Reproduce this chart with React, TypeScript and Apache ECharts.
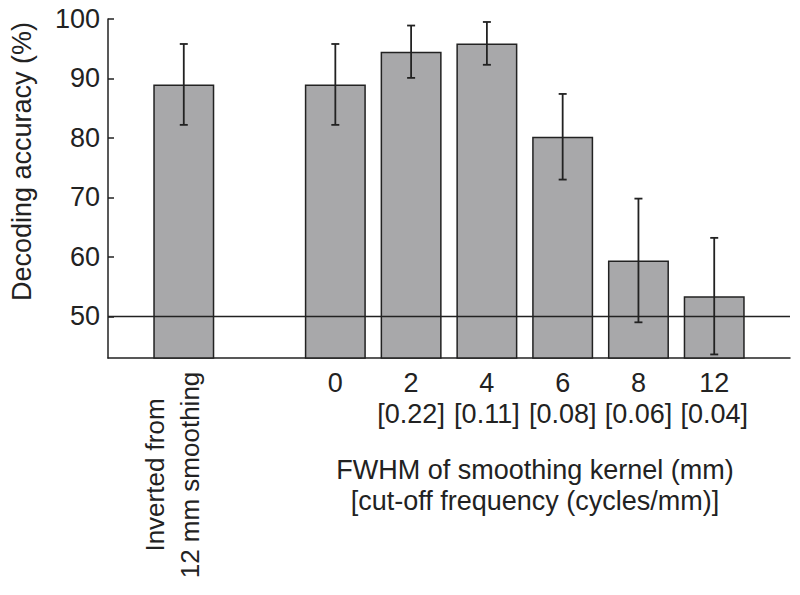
import React, { useEffect, useRef } from 'react';
import * as echarts from 'echarts';

// Data
const positions = [0, 2, 3, 4, 5, 6, 7];
const invertedLabelLines = ['Inverted from', '12 mm smoothing'];
const kernelLabels = ['0', '2', '4', '6', '8', '12'];
const cutoffLabels = ['', '[0.22]', '[0.11]', '[0.08]', '[0.06]', '[0.04]'];
const accuracy = [89.0, 89.0, 94.5, 95.9, 80.2, 59.4, 53.4];
const errors = [6.8, 6.8, 4.4, 3.6, 7.2, 10.4, 9.8];
const yTicks = [50, 60, 70, 80, 90, 100];
const chanceLevel = 50;
const yAxisTitle = 'Decoding accuracy (%)';
const xAxisTitle = 'FWHM of smoothing kernel (mm)\n[cut-off frequency (cycles/mm)]';

const FONT = '"Liberation Sans", Arial, Helvetica, sans-serif';
const INK = '#222222';

export default function App() {
  const ref = useRef<HTMLDivElement>(null);

  useEffect(() => {
    document.body.style.margin = '0';
    if (!ref.current) return;
    const chart = echarts.init(ref.current, undefined, { renderer: 'svg' });

    const barData = positions.map((p, i) => [p, accuracy[i]]);
    const errData = positions.map((p, i) => [p, accuracy[i], errors[i]]);

    const labelFor = (v: number) => {
      const idx = positions.indexOf(v);
      if (idx < 1) return '';
      const k = idx - 1;
      return cutoffLabels[k] ? kernelLabels[k] + '\n' + cutoffLabels[k] : kernelLabels[k];
    };

    const invertedRich =
      invertedLabelLines.map((l) => '{a|' + l + '}').join('\n') + '\n{s| }';

    chart.setOption({
      animation: false,
      backgroundColor: '#ffffff',
      textStyle: { fontFamily: FONT, color: INK },
      title: {
        text: xAxisTitle,
        left: 530,
        top: 449,
        textAlign: 'center',
        textStyle: {
          fontFamily: FONT,
          fontSize: 27,
          fontWeight: 'normal',
          color: INK,
          lineHeight: 31,
        },
      },
      grid: { left: 107, right: 10, top: 19, bottom: 237, containLabel: false },
      xAxis: [
        {
          type: 'value',
          position: 'bottom',
          min: -1,
          max: 8,
          interval: 1,
          splitLine: { show: false },
          axisTick: { show: false },
          axisLine: { show: true, onZero: false, lineStyle: { color: INK, width: 1.5 } },
          axisLabel: {
            show: true,
            rotate: 90,
            align: 'center',
            verticalAlign: 'middle',
            margin: 117,
            color: INK,
            fontFamily: FONT,
            fontSize: 26,
            rich: {
              a: { fontSize: 26, lineHeight: 35, fontFamily: FONT, color: INK, align: 'center' },
              s: { fontSize: 10, lineHeight: 23, fontFamily: FONT, color: INK },
            },
            formatter: (v: number) => (v === positions[0] ? invertedRich : ''),
          },
        },
        {
          type: 'value',
          position: 'bottom',
          min: -1,
          max: 8,
          interval: 1,
          splitLine: { show: false },
          axisTick: { show: false },
          axisLine: { show: false, onZero: false },
          axisLabel: {
            show: true,
            margin: 9,
            fontSize: 27,
            lineHeight: 31,
            color: INK,
            fontFamily: FONT,
            formatter: (v: number) => labelFor(v),
          },
        },
      ],
      yAxis: {
        type: 'value',
        min: 43,
        max: 100,
        name: yAxisTitle,
        nameLocation: 'middle',
        nameGap: 73,
        nameTextStyle: { fontSize: 27, color: INK, fontFamily: FONT, padding: [0, 0, 0, 54] },
        splitLine: { show: false },
        axisLine: { show: true, onZero: false, lineStyle: { color: INK, width: 1.5 } },
        axisTick: {
          show: true,
          inside: true,
          length: 6,
          customValues: yTicks,
          lineStyle: { color: INK, width: 1.5 },
        },
        axisLabel: {
          customValues: yTicks,
          margin: 8,
          fontSize: 27,
          color: INK,
          fontFamily: FONT,
        },
      },
      series: [
        {
          type: 'bar',
          xAxisIndex: 1,
          data: barData,
          barWidth: 61,
          itemStyle: { color: '#a8a8aa', borderColor: INK, borderWidth: 1.5 },
          markLine: {
            silent: true,
            symbol: ['none', 'none'],
            label: { show: false },
            lineStyle: { color: INK, width: 1.3, type: 'solid' },
            data: [{ yAxis: chanceLevel }],
          },
          z: 2,
        },
        {
          type: 'custom',
          xAxisIndex: 1,
          data: errData,
          encode: { x: 0, y: 1 },
          z: 5,
          renderItem: (params: any, api: any) => {
            const x = api.value(0);
            const y = api.value(1);
            const e = api.value(2);
            const top = api.coord([x, y + e]);
            const bot = api.coord([x, y - e]);
            const half = 4;
            const style = { stroke: INK, lineWidth: 1.8 };
            return {
              type: 'group',
              children: [
                { type: 'line', shape: { x1: top[0], y1: top[1], x2: bot[0], y2: bot[1] }, style },
                { type: 'line', shape: { x1: top[0] - half, y1: top[1], x2: top[0] + half, y2: top[1] }, style },
                { type: 'line', shape: { x1: bot[0] - half, y1: bot[1], x2: bot[0] + half, y2: bot[1] }, style },
              ],
            };
          },
        },
      ],
    });

    return () => {
      chart.dispose();
    };
  }, []);

  return <div ref={ref} style={{ width: 800, height: 595 }} />;
}
